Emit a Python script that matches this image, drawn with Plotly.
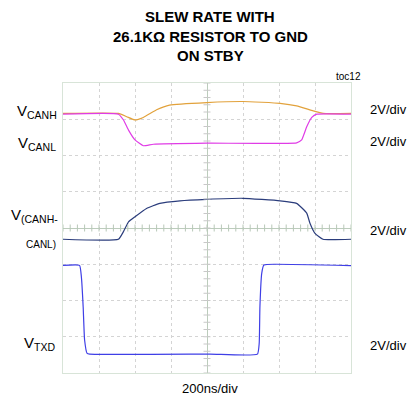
import plotly.graph_objects as go

# time in divisions (0..8), voltage in divisions (0..8, bottom=0)
canh_t = [0.0, 1.54, 1.77, 2.0, 2.23, 2.6, 2.96, 3.99, 5.0, 6.03, 6.49, 6.95, 7.23, 8.0]
canh_v = [7.16, 7.16, 7.07, 6.98, 7.05, 7.26, 7.39, 7.46, 7.49, 7.44, 7.37, 7.23, 7.16, 7.16]

canl_t = [0.0, 1.54, 1.68, 1.82, 2.0, 2.23, 2.51, 4.0, 6.49, 6.63, 6.77, 6.91, 7.05, 8.0]
canl_v = [7.14, 7.14, 6.98, 6.70, 6.43, 6.27, 6.31, 6.34, 6.35, 6.43, 6.79, 7.05, 7.14, 7.14]

diff_t = [0.0, 1.54, 1.68, 1.82, 2.0, 2.32, 2.69, 3.25, 3.99, 5.0, 6.03, 6.49, 6.77, 6.86, 7.0, 7.22, 8.0]
diff_v = [3.69, 3.69, 3.90, 4.17, 4.31, 4.54, 4.68, 4.75, 4.79, 4.82, 4.75, 4.68, 4.41, 4.13, 3.85, 3.69, 3.69]

txd_t = [0.0, 0.46, 0.51, 0.56, 0.60, 0.67, 0.74, 4.08, 5.40, 5.45, 5.47, 5.52, 5.58, 5.91, 8.0]
txd_v = [2.97, 2.97, 2.66, 1.83, 0.91, 0.54, 0.52, 0.52, 0.52, 0.82, 1.83, 2.75, 2.98, 3.00, 2.96]

title_lines = ["SLEW RATE WITH", "26.1KΩ RESISTOR TO GND", "ON STBY"]

colors = {"canh": "#E2A23C", "canl": "#E03CE6", "diff": "#2B3D7C", "txd": "#3F3FE6"}

def sx(t):
    return [v - 4 for v in t]

fig = go.Figure()
for t, v, c in [(canh_t, canh_v, colors["canh"]), (canl_t, canl_v, colors["canl"]),
                (diff_t, diff_v, colors["diff"]), (txd_t, txd_v, colors["txd"])]:
    fig.add_trace(go.Scatter(x=sx(t), y=sx(v), mode="lines",
                             line=dict(color=c, width=1.2, shape="spline", smoothing=0.4),
                             hoverinfo="skip", showlegend=False))

# minor ticks along center lines
minor = [i * 0.2 - 4 for i in range(41)]
fig.add_trace(go.Scatter(x=minor, y=[0] * len(minor), mode="markers",
                         marker=dict(symbol="line-ns", size=5, line=dict(color="#b8c8b8", width=1)),
                         hoverinfo="skip", showlegend=False))
fig.add_trace(go.Scatter(x=[0] * len(minor), y=minor, mode="markers",
                         marker=dict(symbol="line-ew", size=5, line=dict(color="#c8c8c8", width=1)),
                         hoverinfo="skip", showlegend=False))

ax = dict(range=[-4, 4], dtick=1, showgrid=True, gridcolor="#d4d4d4", griddash="dot",
          gridwidth=1, zeroline=True, zerolinecolor="#bcccbc", zerolinewidth=1,
          showticklabels=False, ticks="", showline=True, linecolor="#d8e4d8", mirror=True,
          fixedrange=True)
fig.update_xaxes(**ax)
fig.update_yaxes(**ax)

font = "Liberation Sans, Arial, sans-serif"

# page pixel positions (target image coordinates)
ann = []
for line, y in zip(title_lines, [16, 36, 56]):
    ann.append(dict(text="<b>" + line + "</b>", x=210, y=y,
                    font=dict(family=font, size=15, color="#000")))
ann.append(dict(text="toc12", x=348, y=77, font=dict(family=font, size=10, color="#000")))
left = [("V<sub>CANH</sub>", 37, 111), ("V<sub>CANL</sub>", 37, 143),
        ("V<sub>(CANH-</sub>", 34, 215), ("<span style='font-size:10px'>CANL)</span>", 41, 244),
        ("V<sub>TXD</sub>", 39, 343)]
for txt, x, y in left:
    ann.append(dict(text=txt, x=x, y=y, font=dict(family=font, size=15, color="#000")))
for y in [110, 141, 230, 345]:
    ann.append(dict(text="2V/div", x=388, y=y, font=dict(family=font, size=13, color="#000")))
ann.append(dict(text="200ns/div", x=210, y=388, font=dict(family=font, size=13, color="#000")))

# the page body adds an 8px offset; compensate
OFF = 8
W, H = 417 - OFF, 400 - OFF
pl, pr, pt, pb = 63 - OFF, 66, 83 - OFF, 27
pw, ph = W - pl - pr, H - pt - pb
final = []
for a in ann:
    px = a["x"] - OFF
    py = a["y"] - OFF
    a.update(x=(px - pl) / pw, y=1 - (py - pt) / ph, xref="paper", yref="paper",
             showarrow=False, xanchor="center", yanchor="middle")
    final.append(a)

fig.update_layout(width=W, height=H, margin=dict(l=pl, r=pr, t=pt, b=pb),
                  paper_bgcolor="white", plot_bgcolor="white", annotations=final)

fig.write_html("out.html")
